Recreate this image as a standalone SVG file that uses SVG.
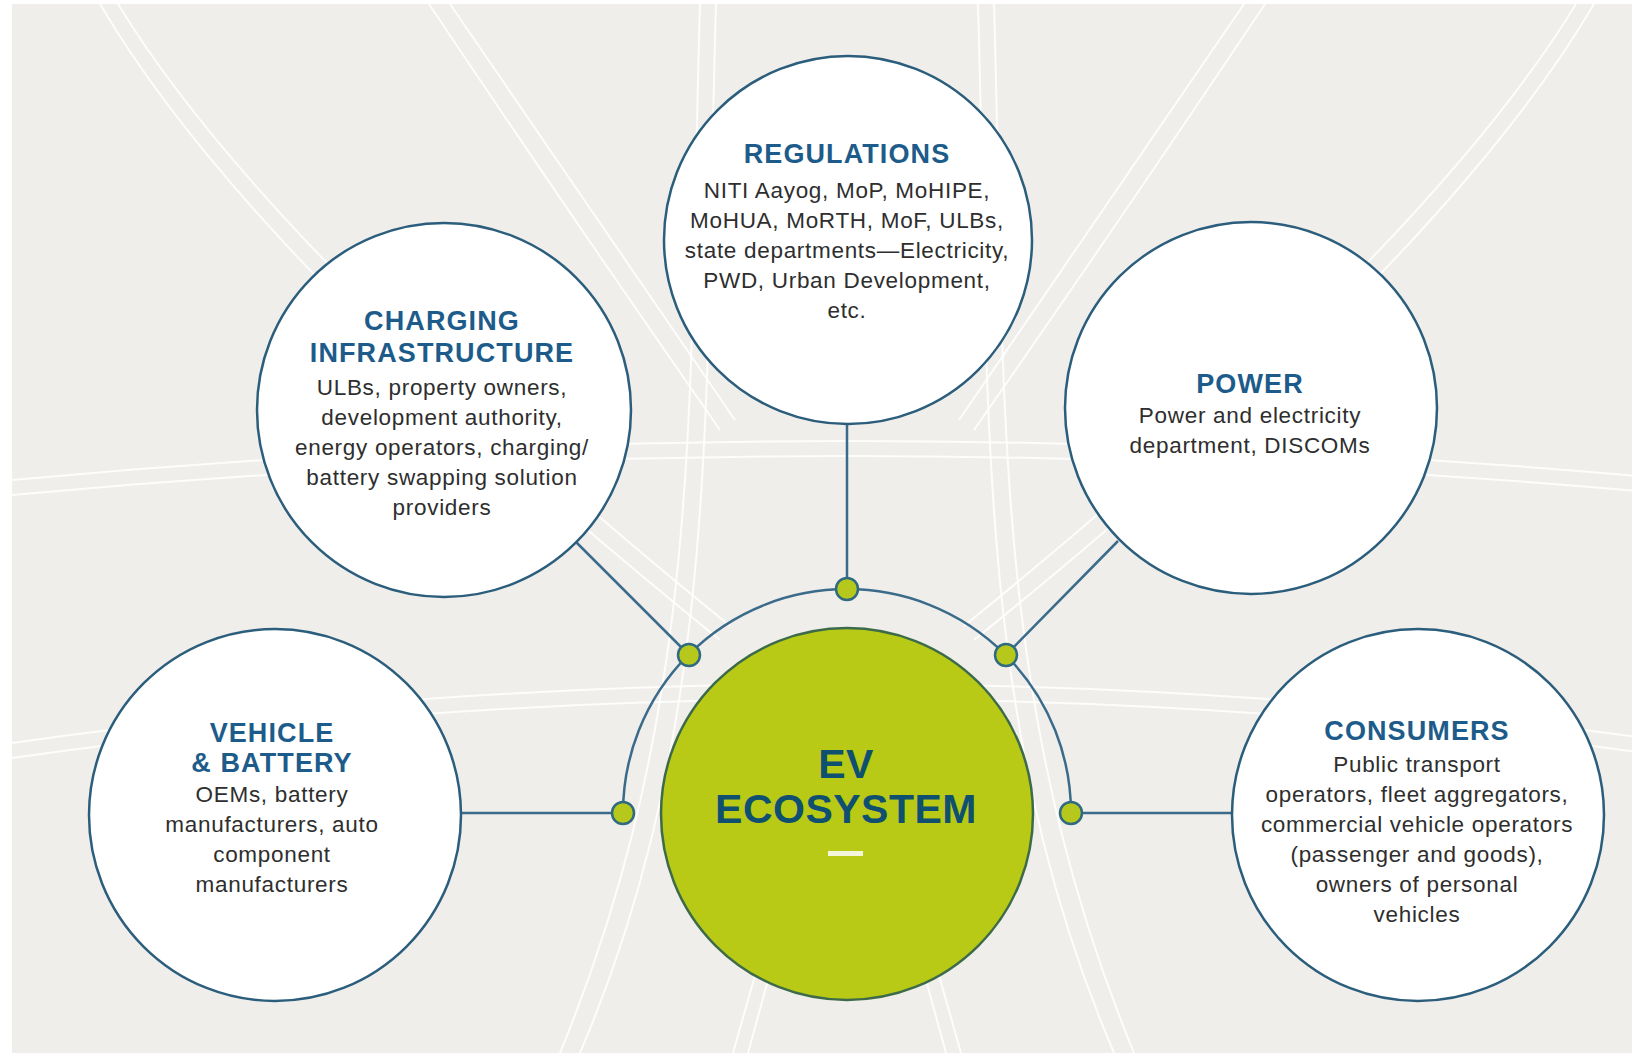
<svg xmlns="http://www.w3.org/2000/svg" xmlns:xlink="http://www.w3.org/1999/xlink" width="1632" height="1053" viewBox="0 0 1632 1053">
<defs>
<style>
.bgl{fill:none;stroke:#ffffff;stroke-width:2;opacity:0.85}
.node{fill:#ffffff;stroke:#2b5d7c;stroke-width:2.5}
.conn{fill:none;stroke:#3a6b8a;stroke-width:2.5}
.dot{fill:#b6c81c;stroke:#2f6a80;stroke-width:2.5}
.t{font-family:"Liberation Sans",Arial,sans-serif;font-weight:bold;font-size:27px;fill:#1d5c8a;text-anchor:middle;letter-spacing:1.1px}
.b{font-family:"Liberation Sans",Arial,sans-serif;font-size:22.5px;fill:#2e2e2e;text-anchor:middle;letter-spacing:0.7px}
.ev{font-family:"Liberation Sans",Arial,sans-serif;font-weight:bold;font-size:41px;fill:#0f5070;text-anchor:middle;letter-spacing:0.5px}
</style>
</defs>
<rect x="0" y="0" width="1632" height="1053" fill="#ffffff"/>
<rect x="12" y="4" width="1620" height="1049" fill="#f0eeea"/>
<g id="background-lines">
<g id="bg-left">
<path class="bgl" d="M100,4 Q250,260 720,640"/>
<path class="bgl" d="M118,4 Q268,250 730,626"/>
<path class="bgl" d="M429,4 Q560,200 720,430"/>
<path class="bgl" d="M450,4 Q580,195 735,420"/>
<path class="bgl" d="M700,4 C688,400 705,700 560,1053"/>
<path class="bgl" d="M716,4 C704,400 722,720 580,1053"/>
<path class="bgl" d="M765,940 L733,1053"/>
<path class="bgl" d="M779,940 L748,1053"/>
</g>
<use xlink:href="#bg-left" transform="matrix(-1 0 0 1 1694 0)"/>
<path class="bgl" d="M12,480 Q847,402 1682,480"/>
<path class="bgl" d="M12,495 Q847,417 1682,495"/>
<path class="bgl" d="M12,743 Q847,625 1682,743"/>
<path class="bgl" d="M12,758 Q847,640 1682,758"/>
</g>
<g id="connectors">
<path class="conn" d="M623,813 A224,224 0 0 1 1071,813"/>
<line class="conn" x1="847" y1="424" x2="847" y2="589"/>
<line class="conn" x1="576" y1="542" x2="689" y2="655"/>
<line class="conn" x1="1118" y1="541" x2="1006" y2="655"/>
<line class="conn" x1="461" y1="813" x2="623" y2="813"/>
<line class="conn" x1="1073" y1="813" x2="1233" y2="813"/>
<circle class="dot" cx="847" cy="589" r="11"/>
<circle class="dot" cx="689" cy="655" r="11"/>
<circle class="dot" cx="1006" cy="655" r="11"/>
<circle class="dot" cx="623" cy="813" r="11"/>
<circle class="dot" cx="1071" cy="813" r="11"/>
</g>
<g id="regulations">
<circle class="node" cx="848" cy="240" r="184"/>
<text class="t" x="847" y="163">REGULATIONS</text>
<text class="b" x="847" y="198">NITI Aayog, MoP, MoHIPE,</text>
<text class="b" x="847" y="228">MoHUA, MoRTH, MoF, ULBs,</text>
<text class="b" x="847" y="258">state departments—Electricity,</text>
<text class="b" x="847" y="288">PWD, Urban Development,</text>
<text class="b" x="847" y="318">etc.</text>
</g>
<g id="charging-infrastructure">
<circle class="node" cx="444" cy="410" r="187"/>
<text class="t" x="442" y="330">CHARGING</text>
<text class="t" x="442" y="362">INFRASTRUCTURE</text>
<text class="b" x="442" y="395">ULBs, property owners,</text>
<text class="b" x="442" y="425">development authority,</text>
<text class="b" x="442" y="455">energy operators, charging/</text>
<text class="b" x="442" y="485">battery swapping solution</text>
<text class="b" x="442" y="515">providers</text>
</g>
<g id="power">
<circle class="node" cx="1251" cy="408" r="186"/>
<text class="t" x="1250" y="393">POWER</text>
<text class="b" x="1250" y="423">Power and electricity</text>
<text class="b" x="1250" y="453">department, DISCOMs</text>
</g>
<g id="vehicle-battery">
<circle class="node" cx="275" cy="815" r="186"/>
<text class="t" x="272" y="742">VEHICLE</text>
<text class="t" x="272" y="772">&amp; BATTERY</text>
<text class="b" x="272" y="802">OEMs, battery</text>
<text class="b" x="272" y="832">manufacturers, auto</text>
<text class="b" x="272" y="862">component</text>
<text class="b" x="272" y="892">manufacturers</text>
</g>
<g id="consumers">
<circle class="node" cx="1418" cy="815" r="186"/>
<text class="t" x="1417" y="740">CONSUMERS</text>
<text class="b" x="1417" y="772">Public transport</text>
<text class="b" x="1417" y="802">operators, fleet aggregators,</text>
<text class="b" x="1417" y="832">commercial vehicle operators</text>
<text class="b" x="1417" y="862">(passenger and goods),</text>
<text class="b" x="1417" y="892">owners of personal</text>
<text class="b" x="1417" y="922">vehicles</text>
</g>
<g id="ev-ecosystem">
<circle cx="847" cy="814" r="186" fill="#b8ca16" stroke="#3d6b4a" stroke-width="2.5"/>
<text class="ev" x="846" y="778">EV</text>
<text class="ev" x="846" y="823">ECOSYSTEM</text>
<rect x="828" y="851" width="35" height="5" fill="#f4f6dc"/>
</g>
</svg>
